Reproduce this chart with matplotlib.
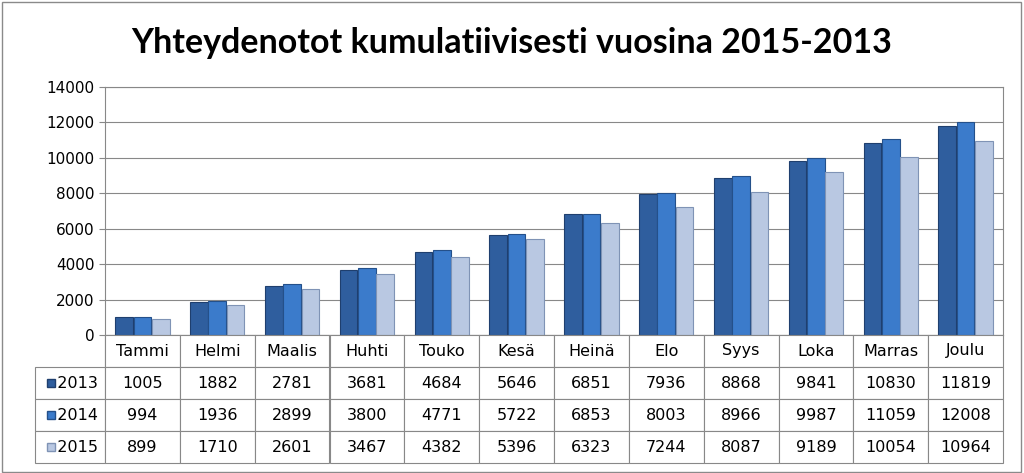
import numpy as np
import matplotlib.pyplot as plt
from matplotlib.patches import Rectangle

months = ["Tammi", "Helmi", "Maalis", "Huhti", "Touko", "Kesä", "Heinä", "Elo", "Syys", "Loka", "Marras", "Joulu"]
years = ["2013", "2014", "2015"]
v2013 = [1005, 1882, 2781, 3681, 4684, 5646, 6851, 7936, 8868, 9841, 10830, 11819]
v2014 = [994, 1936, 2899, 3800, 4771, 5722, 6853, 8003, 8966, 9987, 11059, 12008]
v2015 = [899, 1710, 2601, 3467, 4382, 5396, 6323, 7244, 8087, 9189, 10054, 10964]
series = [v2013, v2014, v2015]
colors = ["#2F5E9E", "#3B7BCB", "#B9C8E2"]
edges = ["#1F3F6E", "#24508A", "#7F93B5"]

W, H = 1024, 473
fig = plt.figure(figsize=(W / 100, H / 100), dpi=100)
fig.patches.append(Rectangle((0.002, 0.003), 0.995, 0.993, transform=fig.transFigure,
                             fill=False, edgecolor="#8A8A8A", linewidth=1))
fig.text(0.5, 0.91, "Yhteydenotot kumulatiivisesti vuosina 2015-2013", ha="center", va="center",
         fontsize=24.5, fontweight="bold", family="Lato")

left, right = 105 / W, 1003 / W
ax = fig.add_axes([left, 1 - 335 / H, right - left, (335 - 87) / H])
x = np.arange(len(months))
bw = 0.235
for i, s in enumerate(series):
    ax.bar(x + (i - 1) * (bw + 0.01), s, bw, color=colors[i], edgecolor=edges[i], linewidth=0.8, zorder=3)
ax.set_xlim(-0.5, len(months) - 0.5)
ax.set_ylim(0, 14000)
ax.set_yticks(range(0, 14001, 2000))
ax.tick_params(axis="y", labelsize=11, length=4, color="#888888")
ax.set_xticks([])
ax.grid(axis="y", color="#888888", linewidth=0.8, zorder=0)
for sp in ax.spines.values():
    sp.set_color("#888888")

# data table
tl = 35 / W
ta = fig.add_axes([tl, 1 - 463 / H, right - tl, (463 - 335) / H])
ta.axis("off")
cells = [[""] + months]
for y, s in zip(years, series):
    cells.append(["   " + y] + [str(v) for v in s])
lw = 70 / (1003 - 35)
cw = (1 - lw) / 12
tab = ta.table(cellText=cells, bbox=[0, 0, 1, 1], cellLoc="center",
               colWidths=[lw] + [cw] * 12)
tab.auto_set_font_size(False)
tab.set_fontsize(11.5)
for (r, c), cell in tab.get_celld().items():
    cell.set_edgecolor("#888888")
    cell.set_linewidth(0.8)
    if r == 0 and c == 0:
        cell.visible_edges = "R"
rh = 1 / 4
for i in range(3):
    yc = 1 - rh * (i + 1.5)
    ta.add_patch(Rectangle((0.012, yc - 0.03), 0.009, 0.06, color=colors[i], ec=edges[i],
                           transform=ta.transAxes, clip_on=False))

fig.savefig("out.png", dpi=100)
